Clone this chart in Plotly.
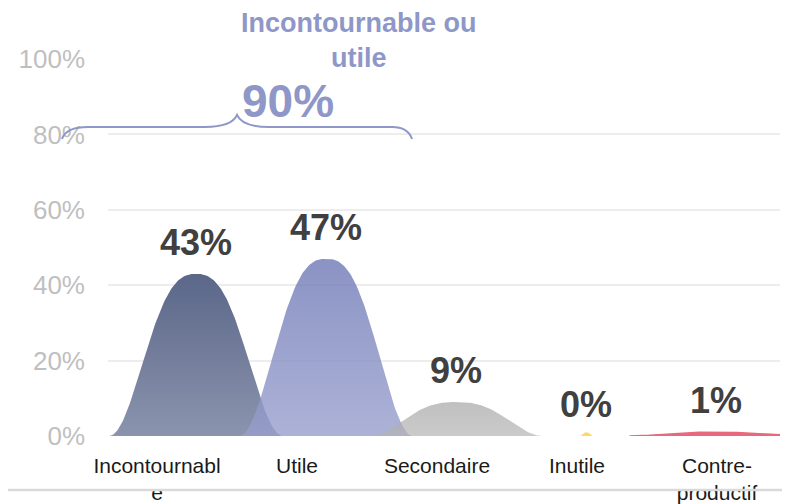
import numpy as np
import plotly.graph_objects as go

# ---- data ----
categories = ["Incontournable", "Utile", "Secondaire", "Inutile", "Contre-productif"]
tick_labels = ["Incontournabl<br>e", "Utile", "Secondaire", "Inutile", "Contre-<br>productif"]
values = [43, 47, 9, 0, 1]
group_label = "Incontournable ou<br>utile"
group_value = 90
y_ticks = [0, 20, 40, 60, 80, 100]

# ---- layout helpers (pixel geometry of the 790x504 window) ----
W, H = 790, 504
OFF = 8                      # default page body margin
ML, MR, MT, MB = 108, 10, 59, 68   # plot area in window pixels
PW, PH = W - ML - MR, H - MT - MB
X_RANGE = [-0.35, 4.45]
BELL_X0, BELL_STEP, HALF_W = 0.279, 0.929, 0.62
FONT = "Liberation Sans, Arial, sans-serif"


def px(xp):
    return (xp - ML) / PW


def py(yp):
    return (H - MB - yp) / PH


def bell(center, height, half_w):
    r = np.linspace(-1, 1, 161)
    yy = height * 0.5 * (1 + np.cos(np.pi * np.abs(r) ** 1.3))
    xx = center + r * half_w
    return np.concatenate([[xx[0]], xx, [xx[-1]]]), np.concatenate([[0], yy, [0]])


styles = [
    dict(top="rgb(91,103,137)", bot="rgb(139,148,173)", line=None),
    dict(top="rgba(109,120,181,0.8)", bot="rgba(152,159,205,0.8)", line=None),
    dict(top="rgba(165,165,165,0.7)", bot="rgba(180,180,180,0.7)", line=None),
    dict(top="#ffd966", bot="#ffd966", line=None),
    dict(top="#e8697b", bot="#e8697b", line="#e8697b"),
]

fig = go.Figure()
for i, (cat, v) in enumerate(zip(categories, values)):
    c = BELL_X0 + BELL_STEP * i
    h, hw = v, HALF_W
    if v == 0:
        h, hw = 1.0, 0.045
    bx, by = bell(c, h, hw)
    st = styles[i]
    fig.add_trace(go.Scatter(
        x=bx, y=by, mode="lines", fill="toself",
        fillgradient=dict(type="vertical",
                          colorscale=[[0, st["bot"]], [1, st["top"]]]),
        line=dict(width=1.5 if st["line"] else 0, color=st["line"] or "rgba(0,0,0,0)"),
        hoverinfo="skip", showlegend=False, name=cat,
    ))
    fig.add_annotation(
        x=c, y=v, xref="x", yref="y", text=f"<b>{v}%</b>", showarrow=False,
        yanchor="bottom", yshift=9,
        font=dict(family=FONT, size=36, color="#404040"),
    )

# group annotation
fig.add_annotation(
    x=px(239), y=py(40), xref="paper", yref="paper",
    text=f"<b>{group_label}</b>", showarrow=False, yanchor="middle",
    font=dict(family=FONT, size=27, color="#8e97c8"),
)
fig.add_annotation(
    x=px(240), y=py(101), xref="paper", yref="paper",
    text=f"<b>{group_value}%</b>", showarrow=False, yanchor="middle",
    font=dict(family=FONT, size=46, color="#8e97c8"),
)

# curly brace
pts = [(62, 139), (66, 127), (88, 127), (205, 127), (232, 127), (237, 115),
       (242, 127), (269, 127), (392, 127), (408, 127), (412, 139)]
P = [f"{px(a):.4f},{py(b):.4f}" for a, b in pts]
path = (f"M {P[0]} Q {P[1]} {P[2]} L {P[3]} Q {P[4]} {P[5]} "
        f"Q {P[6]} {P[7]} L {P[8]} Q {P[9]} {P[10]}")
fig.add_shape(type="path", path=path, xref="paper", yref="paper",
              line=dict(color="#8e97c8", width=2))

# bottom separator line
fig.add_shape(type="line", xref="paper", yref="paper",
              x0=px(0), x1=px(W), y0=py(490), y1=py(490),
              line=dict(color="#d9d9d9", width=2.5))

fig.update_layout(
    width=W - OFF, height=H - OFF,
    margin=dict(l=ML - OFF, r=MR, t=MT - OFF, b=MB, autoexpand=False),
    paper_bgcolor="white", plot_bgcolor="white",
    showlegend=False,
    xaxis=dict(range=X_RANGE, tickvals=list(range(len(categories))), ticktext=tick_labels,
               showgrid=False, zeroline=False, showline=False, ticks="",
               automargin=False,
               tickfont=dict(family=FONT, size=21, color="#1a1a1a"),
               ticklabelstandoff=15),
    yaxis=dict(range=[0, 100], tickvals=y_ticks, ticktext=[f"{t}%" for t in y_ticks],
               showgrid=True, gridcolor="#ededed", gridwidth=2, zeroline=False,
               showline=False, ticks="", automargin=False,
               tickfont=dict(family=FONT, size=26, color="#bfbfbf"),
               ticklabelstandoff=22),
)

fig.write_html("out.html")
